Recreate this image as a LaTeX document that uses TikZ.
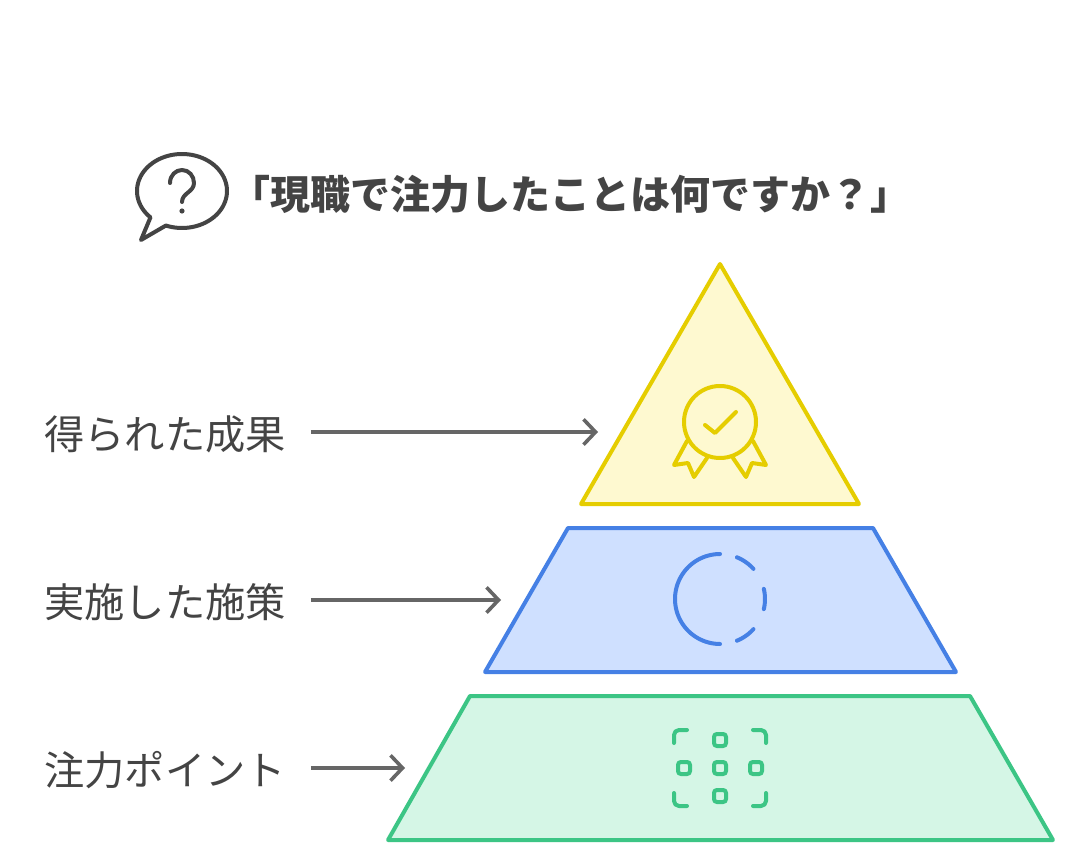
\documentclass[tikz,border=0pt]{standalone}
\usepackage{fontspec}
\usetikzlibrary{arrows.meta}
\newfontfamily\cjk{Noto Sans CJK JP}
\definecolor{ink}{HTML}{444444}
\definecolor{arrowgray}{HTML}{666666}
\definecolor{yellowline}{HTML}{E5CD00}
\definecolor{yellowfill}{HTML}{FEF9D0}
\definecolor{blueline}{HTML}{4580E5}
\definecolor{bluefill}{HTML}{CFE0FF}
\definecolor{greenline}{HTML}{3CC585}
\definecolor{greenfill}{HTML}{D5F6E6}
\tikzset{
  layer/.style={line width=3pt,line join=round},
  icon/.style={line width=3pt,line join=round,line cap=round},
  label/.style={font=\cjk\fontsize{30.2}{32}\selectfont,text=ink,inner sep=0pt,outer xsep=18.75pt,text height=27pt,text depth=1pt},
  title/.style={font=\cjk\bfseries\fontsize{30}{32}\selectfont,text=ink,inner sep=0pt,anchor=west},
  pointer/.style={draw=arrowgray,line width=2.7pt,-{Straight Barb[length=9pt,width=19pt,line width=2.7pt]}},
  tile/.style={draw=greenline,line width=3pt,rounded corners=2.2pt,fill=none}
}
\begin{document}
\begin{tikzpicture}[x=0.75pt,y=-0.75pt]
\useasboundingbox (0,0) rectangle (1079,866);
\fill[white] (0,0) rectangle (1079,866);
% speech bubble
\draw[icon,draw=ink] plot[domain=111:-225.5,samples=90] ({182+45*cos(\x)},{191+37*sin(\x)}) -- (141,240) -- cycle;
\draw[icon,draw=ink] (170,183) .. controls (170,175) and (176,170) .. (182,170) .. controls (189,170) and (194,176) .. (194,183) .. controls (194,192) and (182,193) .. (182,202);
\fill[ink] (182,211) circle (2.6);
\node[title] (head) at (230,194) {「現職で注力したことは何ですか？」};
% yellow layer
\draw[layer,draw=yellowline,fill=yellowfill] (720,264) -- (859,504) -- (581,504) -- cycle;
\draw[icon,draw=yellowline] (720,422) circle (36);
\draw[icon,draw=yellowline] (705,425) -- (715,433) -- (736,412);
\draw[icon,draw=yellowline] (687,441) -- (674,465) -- (688,463) -- (694,477) -- (707,458);
\draw[icon,draw=yellowline] (753,441) -- (766,465) -- (752,463) -- (746,477) -- (733,458);
% blue layer
\draw[layer,draw=blueline,fill=bluefill] (568,528) -- (873,528) -- (956,672) -- (485,672) -- cycle;
\draw[icon,draw=blueline] plot[domain=90:270,samples=50] ({720+45*cos(\x)},{599+45*sin(\x)});
\draw[icon,draw=blueline] plot[domain=-68:-42,samples=10] ({720+45*cos(\x)},{599+45*sin(\x)});
\draw[icon,draw=blueline] plot[domain=-13:13,samples=10] ({720+45*cos(\x)},{599+45*sin(\x)});
\draw[icon,draw=blueline] plot[domain=42:68,samples=10] ({720+45*cos(\x)},{599+45*sin(\x)});
% green layer
\draw[layer,draw=greenline,fill=greenfill] (470,696) -- (970,696) -- (1053,840) -- (388,840) -- cycle;
\foreach \cx/\cy in {720/740,684/768,720/768,756/768,720/796}
  \draw[tile] (\cx-6,\cy-6) rectangle (\cx+6,\cy+6);
\draw[icon,draw=greenline] (674,743) -- (674,735) arc[start angle=180,end angle=90,radius=3.75pt] -- (687,730);
\draw[icon,draw=greenline] (753,730) -- (761,730) arc[start angle=90,end angle=0,radius=3.75pt] -- (766,743);
\draw[icon,draw=greenline] (674,793) -- (674,801) arc[start angle=180,end angle=270,radius=3.75pt] -- (687,806);
\draw[icon,draw=greenline] (753,806) -- (761,806) arc[start angle=270,end angle=360,radius=3.75pt] -- (766,793);
% labels and pointers
\node[label] (lab1) at (165,432) {得られた成果};
\node[label] (lab2) at (165,600) {実施した施策};
\node[label] (lab3) at (165,768) {注力ポイント};
\coordinate (tip1) at (598,432);
\coordinate (tip2) at (501,600);
\coordinate (tip3) at (405,768);
\draw[pointer] (lab1.east) -- (tip1);
\draw[pointer] (lab2.east) -- (tip2);
\draw[pointer] (lab3.east) -- (tip3);
\end{tikzpicture}
\end{document}
